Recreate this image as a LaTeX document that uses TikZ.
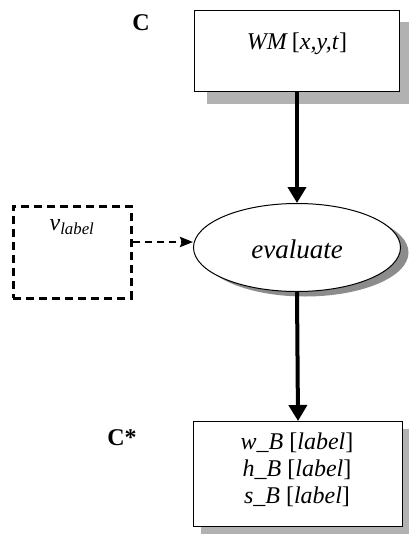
\documentclass[tikz,border=0pt]{standalone}
\usepackage{fontspec}
\setmainfont{Liberation Serif}
\usetikzlibrary{arrows.meta,shadows,shapes.geometric}
\begin{document}
\begin{tikzpicture}[x=1pt,y=-1pt,
  shbox/.style={draw=black,line width=1pt,fill=white,
    drop shadow={shadow xshift=12pt,shadow yshift=-12pt,fill=black!30,opacity=1}},
  thickarrow/.style={line width=4pt,-{Triangle[length=16pt,width=18pt]}},
  dasharrow/.style={line width=2.6pt,dash pattern=on 7pt off 5pt,-{Stealth[length=13pt,width=10pt,inset=2pt]}},
  lbl/.style={font=\fontsize{24}{27}\selectfont\bfseries},
  txt/.style={font=\fontsize{24}{27}\selectfont}]
\useasboundingbox (0,0) rectangle (408,535);
% top box
\node[shbox,minimum width=205pt,minimum height=81pt,anchor=north west] (wm) at (194,10) {};
\node[txt] (wmt) at (297,44) {\textit{WM}\,[\textit{x,y,t}]};
\node[lbl] (c) at (141,23) {C};
% ellipse
\node[draw=black,line width=1pt,fill=white,shape=ellipse,
      drop shadow={shadow xshift=8pt,shadow yshift=-5pt,fill=black!45,opacity=1},
      minimum width=207pt,minimum height=88pt,inner sep=0pt] (ev) at (297,247.5) {};
\node[font=\fontsize{27}{30}\selectfont\itshape] (evt) at (297,249) {evaluate};
% dashed box
\node[draw=black,line width=2.8pt,dash pattern=on 8pt off 5pt,minimum width=118pt,minimum height=92pt,anchor=north west] (vl) at (12,205) {};
\node[txt] (vlt) at (72,227) {\textit{v\textsubscript{label}}};
% bottom box
\node[draw=black,line width=1pt,fill=white,minimum width=209pt,minimum height=105pt,anchor=north west,
      drop shadow={shadow xshift=7pt,shadow yshift=-7pt,fill=black!30,opacity=1}] (cs) at (193,421) {};
\node[align=center,txt] (cstx) at (297,470) {\textit{w\_B} [\textit{label}]\\\textit{h\_B} [\textit{label}]\\\textit{s\_B} [\textit{label}]};
\node[lbl] (cst) at (122,438) {C*};
% connectors
\draw[thickarrow] (wm.south -| ev.north) -- (ev.north);
\draw[thickarrow] (ev.south) -- (cs.north);
\coordinate (vo) at (vl.east |- 0,242);
\draw[dasharrow] (vo) -- (ev.west |- vo);
\end{tikzpicture}
\end{document}
